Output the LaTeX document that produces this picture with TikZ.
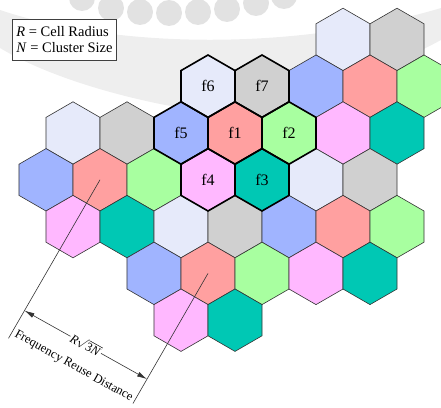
\documentclass[tikz,border=0pt]{standalone}
\usepackage{fontspec}
\setmainfont{Liberation Serif}
\usetikzlibrary{arrows.meta,calc}
\definecolor{cLav}{HTML}{E6EAFA}
\definecolor{cGry}{HTML}{D0D0D0}
\definecolor{cBlu}{HTML}{A0B4FF}
\definecolor{cRed}{HTML}{FFA0A0}
\definecolor{cGrn}{HTML}{A8FFA0}
\definecolor{cPnk}{HTML}{FFB8FF}
\definecolor{cTeal}{HTML}{00C8B4}
\definecolor{cEdge}{HTML}{333333}
\definecolor{cWm}{HTML}{EEEEEE}
\definecolor{cWmDot}{HTML}{E2E2E2}
\newcommand{\hexpath}[2]{(#1,#2) +(90:31.2) -- +(150:31.2) -- +(210:31.2) -- +(270:31.2) -- +(330:31.2) -- +(30:31.2) -- cycle}
\tikzset{
  hexcell/.style={draw=cEdge, line width=0.6pt, line join=miter},
  clustercell/.style={draw=black, line width=1.6pt, line join=miter},
  flabel/.style={font=\fontsize{16}{18}\selectfont, inner sep=0pt},
  legendbox/.style={draw=black!75, fill=white, line width=0.6pt, align=left, font=\fontsize{14.5}{15.5}\selectfont, minimum width=95pt, minimum height=41pt, inner xsep=4pt, inner ysep=2pt},
  dimline/.style={draw=cEdge, line width=0.6pt},
  dimarrow/.style={draw=cEdge, line width=0.6pt, {Latex[length=10pt,width=5pt]}-{Latex[length=10pt,width=5pt]}},
  dimtext/.style={font=\fontsize{12.5}{14}\selectfont}
}
\begin{document}
\begin{tikzpicture}[x=1pt,y=-1pt]
\useasboundingbox (0,0) rectangle (441,407);
\clip (0,0) rectangle (441,407);
% faint watermark
\fill[cWm] (0,10) .. controls (120,50) and (300,50) .. (441,8) -- (441,40) .. controls (330,100) and (220,115) .. (165,105) .. controls (100,92) and (40,72) .. (0,48) -- cycle;
\foreach \px/\py in {82/-2, 111/8, 140/12, 169/13, 198/12, 227/9, 256/3, 284/-4}
  \fill[cWmDot] (\px,\py) circle (13);
% cells
\foreach \k/\r/\c in {12/-1/cLav, 14/-1/cGry, 7/0/cLav, 9/0/cGry, 11/0/cBlu, 13/0/cRed, 15/0/cGrn, 2/1/cLav, 4/1/cGry, 6/1/cBlu, 8/1/cRed, 10/1/cGrn, 12/1/cPnk, 14/1/cTeal, 1/2/cBlu, 3/2/cRed, 5/2/cGrn, 7/2/cPnk, 9/2/cTeal, 11/2/cLav, 13/2/cGry, 2/3/cPnk, 4/3/cTeal, 6/3/cLav, 8/3/cGry, 10/3/cBlu, 12/3/cRed, 14/3/cGrn, 5/4/cBlu, 7/4/cRed, 9/4/cGrn, 11/4/cPnk, 13/4/cTeal, 6/5/cPnk, 8/5/cTeal}
{
  \pgfmathsetmacro{\hx}{19+27*\k}
  \pgfmathsetmacro{\hy}{86.2+46.8*\r}
  \filldraw[hexcell, fill=\c] \hexpath{\hx}{\hy};
}
% cluster outline
\foreach \k/\r in {7/0, 9/0, 6/1, 8/1, 10/1, 7/2, 9/2}
{
  \pgfmathsetmacro{\hx}{19+27*\k}
  \pgfmathsetmacro{\hy}{86.2+46.8*\r}
  \draw[clustercell] \hexpath{\hx}{\hy};
}
% labels
\node[flabel] (f6) at (208,86.2) {f6};
\node[flabel] (f7) at (262,86.2) {f7};
\node[flabel] (f5) at (181,133) {f5};
\node[flabel] (f1) at (235,133) {f1};
\node[flabel] (f2) at (289,133) {f2};
\node[flabel] (f4) at (208,179.8) {f4};
\node[flabel] (f3) at (262,179.8) {f3};
% legend
\node[legendbox] (legend) at (64.5,39.5) {\textit{R} = Cell Radius\\\textit{N} = Cluster Size};
% dimension
\coordinate (c1) at (100,179.8);
\coordinate (c2) at (208,273.4);
\coordinate (e1) at ($(c1)+(-91.5,158.5)$);
\coordinate (e2) at ($(c2)+(-75,130)$);
\coordinate (a1) at ($(c1)+(-75.5,130.8)$);
\coordinate (a2) at ($(c2)+(-61,105.7)$);
\draw[dimline] (c1) -- (e1);
\draw[dimline] (c2) -- (e2);
\draw[dimarrow] (a1) -- node[midway, sloped, fill=white, inner sep=1pt, dimtext] (rlab) {\textit{R}$\sqrt{\mbox{3\textit{N}}}$} (a2);
\path (a1) -- node[midway, sloped, below=19pt, inner sep=0pt, dimtext] (dlab) {Frequency Reuse Distance} (a2);
\end{tikzpicture}
\end{document}
